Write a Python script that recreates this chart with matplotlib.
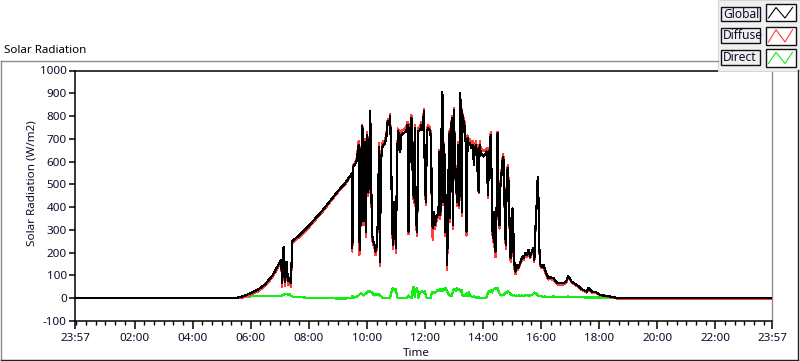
import matplotlib
matplotlib.use("Agg")
import matplotlib.pyplot as plt
from matplotlib.patches import Rectangle
from matplotlib.lines import Line2D
import numpy as np

plt.rcParams['font.family'] = ['Noto Sans', 'DejaVu Sans']

# ---------------- data ----------------
times = ["23:57", "05:25", "05:35", "05:45", "06:00", "06:15", "06:30", "06:45", "07:00", "07:03",
         "07:05", "07:08", "07:11", "07:14", "07:17", "07:20", "07:23", "07:26", "07:30", "07:45",
         "08:00", "08:30", "09:00", "09:15", "09:29", "09:30", "09:32", "09:38", "09:40", "09:43",
         "09:44", "09:46", "09:48", "09:50", "09:52", "09:53", "09:54", "09:56", "09:58", "10:00",
         "10:01", "10:03", "10:05", "10:07", "10:09", "10:11", "10:13", "10:16", "10:18", "10:20",
         "10:23", "10:25", "10:27", "10:29", "10:31", "10:33", "10:36", "10:40", "10:43", "10:46",
         "10:48", "10:50", "10:52", "10:54", "10:56", "10:58", "11:00", "11:02", "11:04", "11:07",
         "11:09", "11:11", "11:16", "11:21", "11:24", "11:26", "11:28", "11:31", "11:33", "11:35",
         "11:37", "11:39", "11:41", "11:44", "11:46", "11:50", "11:53", "11:55", "11:58", "12:00",
         "12:02", "12:04", "12:07", "12:11", "12:13", "12:14", "12:16", "12:19", "12:21", "12:23",
         "12:26", "12:28", "12:30", "12:31", "12:33", "12:35", "12:37", "12:38", "12:40", "12:42",
         "12:44", "12:46", "12:48", "12:51", "12:52", "12:54", "12:56", "12:58", "13:00", "13:02",
         "13:04", "13:06", "13:09", "13:11", "13:13", "13:14", "13:16", "13:17", "13:19", "13:21",
         "13:24", "13:26", "13:28", "13:31", "13:33", "13:36", "13:39", "13:41", "13:43", "13:46",
         "13:48", "13:51", "13:53", "13:55", "14:01", "14:04", "14:08", "14:10", "14:12", "14:14",
         "14:16", "14:17", "14:19", "14:20", "14:22", "14:24", "14:26", "14:28", "14:30", "14:32",
         "14:34", "14:36", "14:38", "14:41", "14:43", "14:45", "14:47", "14:49", "14:51", "14:53",
         "14:55", "14:57", "14:59", "15:01", "15:03", "15:05", "15:07", "15:09", "15:12", "15:15",
         "15:18", "15:21", "15:24", "15:27", "15:30", "15:34", "15:37", "15:41", "15:44", "15:46",
         "15:48", "15:51", "15:53", "15:54", "15:56", "15:58", "16:01", "16:05", "16:08", "16:12",
         "16:15", "16:18", "16:22", "16:25", "16:30", "16:35", "16:46", "16:52", "16:56", "17:00",
         "17:03", "17:14", "17:24", "17:34", "17:38", "17:45", "17:55", "18:02", "18:16", "18:30",
         "18:40", "18:55", "23:57"]

global_rad = [0, 0, 4, 9, 22, 38, 62, 100, 158, 168,
              65, 225, 70, 160, 75, 90, 65, 250, 258, 285,
              318, 390, 470, 505, 548, 219, 578, 597, 622, 673,
              271, 212, 541, 754, 732, 337, 556, 688, 293, 644,
              717, 468, 556, 820, 498, 278, 249, 234, 205, 227,
              351, 666, 161, 600, 644, 673, 673, 703, 776, 761,
              798, 644, 337, 234, 424, 337, 219, 541, 732, 717,
              644, 717, 725, 732, 761, 293, 615, 791, 783, 483,
              439, 747, 351, 293, 732, 739, 761, 739, 820, 498,
              424, 732, 747, 732, 673, 380, 307, 380, 322, 351,
              366, 380, 644, 366, 395, 905, 886, 424, 673, 293,
              454, 146, 498, 732, 351, 747, 791, 322, 827, 585,
              556, 424, 673, 410, 900, 805, 380, 820, 732, 776,
              688, 293, 703, 673, 681, 659, 673, 585, 659, 673,
              585, 468, 673, 640, 622, 629, 644, 454, 571, 673,
              717, 600, 380, 263, 380, 234, 205, 395, 725, 424,
              322, 498, 541, 622, 600, 351, 234, 527, 571, 498,
              307, 175, 205, 395, 263, 146, 117, 146, 132, 146,
              161, 183, 175, 197, 190, 212, 183, 205, 219, 168,
              293, 424, 534, 498, 234, 150, 139, 146, 124, 102,
              88, 95, 88, 90, 75, 66, 66, 75, 98, 85,
              73, 58, 40, 29, 44, 29, 25, 14, 10, 4,
              1, 0, 0]

diffuse_rad = [0, 0, 0, 3, 15, 30, 54, 92, 150, 160,
               50, 215, 55, 150, 60, 80, 50, 240, 250, 277,
               310, 384, 465, 500, 545, 205, 585, 603, 630, 690,
               190, 200, 550, 760, 740, 320, 565, 700, 270, 655,
               730, 450, 565, 760, 480, 260, 235, 220, 190, 215,
               340, 680, 140, 615, 660, 690, 690, 715, 785, 775,
               808, 655, 320, 215, 410, 315, 200, 555, 745, 735,
               660, 735, 740, 750, 775, 280, 630, 805, 800, 470,
               420, 760, 330, 275, 745, 755, 775, 755, 830, 485,
               410, 745, 760, 745, 685, 365, 256, 365, 305, 335,
               350, 365, 650, 350, 380, 890, 880, 410, 680, 275,
               440, 125, 480, 745, 335, 760, 800, 305, 835, 595,
               565, 405, 685, 395, 870, 815, 360, 830, 745, 790,
               700, 275, 715, 690, 700, 680, 690, 600, 675, 690,
               600, 460, 690, 660, 645, 650, 660, 440, 585, 685,
               730, 610, 360, 245, 365, 215, 180, 380, 730, 410,
               305, 510, 555, 635, 615, 335, 215, 540, 585, 510,
               290, 160, 190, 380, 245, 130, 105, 135, 125, 140,
               155, 175, 168, 190, 182, 205, 175, 198, 210, 160,
               285, 420, 530, 495, 225, 145, 132, 140, 118, 95,
               82, 90, 82, 84, 70, 60, 60, 70, 92, 80,
               68, 53, 36, 25, 40, 25, 22, 11, 8, 2,
               -3, -5, -5]

direct_rad = [0, 0, 4, 7, 8, 8, 8, 9, 10, 10,
              12, 15, 18, 20, 14, 18, 10, 8, 5, 4,
              2, 0, -1, -1, 0, 10, 2, 5, 8, 12,
              14, 20, 22, 18, 15, 12, 15, 18, 20, 25,
              28, 30, 28, 30, 28, 25, 15, 12, 18, 15,
              20, 15, 12, 10, 5, 0, 0, 2, 0, 0,
              5, 20, 35, 45, 40, 30, 42, 10, 0, 0,
              2, 0, 0, 0, 5, 12, 8, 5, 0, 45,
              50, 5, 40, 45, 0, 25, 30, 28, 25, 30,
              8, 0, 2, 0, 10, 25, 28, 22, 25, 28,
              35, 38, 30, 40, 38, 30, 32, 40, 35, 45,
              42, 30, 20, 12, 15, 10, 12, 35, 40, 38,
              32, 44, 35, 40, 30, 28, 35, 15, 12, 10,
              15, 22, 10, 25, 12, 8, 5, 10, 5, 2,
              0, 5, 0, 2, 0, 2, 5, 25, 30, 28,
              35, 30, 25, 35, 40, 42, 45, 40, 44, 30,
              20, 15, 12, 15, 14, 20, 28, 25, 30, 28,
              25, 18, 15, 12, 14, 12, 10, 12, 10, 12,
              10, 12, 10, 12, 15, 10, 12, 15, 20, 25,
              22, 18, 15, 12, 10, 8, 8, 6, 8, 6,
              5, 6, 5, 8, 6, 5, 5, 6, 8, 5,
              5, 4, 4, 3, 3, 3, 3, 3, 2, 2,
              1, 0, 0]

tick_labels = ["23:57", "02:00", "04:00", "06:00", "08:00", "10:00", "12:00",
               "14:00", "16:00", "18:00", "20:00", "22:00", "23:57"]
y_ticks = [-100, 0, 100, 200, 300, 400, 500, 600, 700, 800, 900, 1000]
series_names = ["Global", "Diffuse", "Direct"]
series_colors = ["#000000", "#ff3b3b", "#14ee14"]


def to_hours(lbls):
    out = []
    for i, s in enumerate(lbls):
        h, m = s.split(":")
        v = int(h) + int(m) / 60.0
        if i == 0 and v > 12:   # first stamp belongs to the previous day
            v -= 24
        out.append(v)
    return np.array(out)


t = to_hours(times)
tick_pos = to_hours(tick_labels)

W, H = 800, 361
fig = plt.figure(figsize=(W / 100, H / 100), dpi=100)
fig.patch.set_facecolor("white")


def fx(px):
    return px / W


def fy(py):
    return 1 - py / H


TXT = "#0c0c2a"

# outer frame of the graph control
fig.add_artist(Line2D([fx(1), fx(718)], [fy(61), fy(61)], color="#8c8c8c", lw=1.0))
fig.add_artist(Line2D([fx(1), fx(1)], [fy(61), fy(359.5)], color="#8c8c8c", lw=1.0))
fig.add_artist(Line2D([fx(1), fx(797.5)], [fy(359.5), fy(359.5)], color="#202020", lw=1.0))
fig.add_artist(Line2D([fx(797.5), fx(797.5)], [fy(70), fy(359.5)], color="#202020", lw=1.0))

ax = fig.add_axes([fx(75), fy(321), fx(772) - fx(75), fy(70.5) - fy(321)])
ax.set_facecolor("white")

ax.plot(t, direct_rad, color=series_colors[2], lw=0.85, zorder=2, antialiased=False)
ax.plot(t, diffuse_rad, color=series_colors[1], lw=0.85, zorder=3, antialiased=False)
ax.plot(t, global_rad, color=series_colors[0], lw=0.85, zorder=4, antialiased=False)

ax.set_xlim(tick_pos[0], tick_pos[-1])
ax.set_ylim(-100, 1000)
ax.set_xticks(tick_pos)
ax.set_xticklabels(tick_labels)
ax.set_xticks(np.arange(0, 24, 1 / 3), minor=True)
ax.set_yticks(y_ticks)
ax.set_yticklabels([str(v) for v in y_ticks])

for s in ["left", "top", "bottom"]:
    ax.spines[s].set_color("black")
    ax.spines[s].set_linewidth(1.1)
ax.spines["right"].set_color("#8c8c8c")
ax.spines["right"].set_linewidth(1.0)

ax.tick_params(axis="y", which="major", direction="out", length=4.5, width=1.1,
               labelsize=8.4, labelcolor=TXT, pad=1.5)
ax.tick_params(axis="x", which="major", direction="out", length=5.5, width=1.1,
               labelsize=8.4, labelcolor=TXT, pad=3)
ax.tick_params(axis="x", which="minor", direction="out", length=3, width=1.0)

fig.text(fx(416), fy(354), "Time", ha="center", va="center", fontsize=8.4, color=TXT)
fig.text(fx(32), fy(183), "Solar Radiation (W/m2)", ha="center", va="center",
         rotation=90, fontsize=8.4, color=TXT)
fig.text(fx(4), fy(50.5), "Solar Radiation", ha="left", va="center", fontsize=8.3, color="#000000")

# legend panel (plot legend of the graph)
fig.add_artist(Rectangle((fx(717.5), fy(70.5)), fx(800) - fx(717.5), fy(0) - fy(70.5),
                         facecolor="#f0f0f0", edgecolor="#d6d6d6", lw=0.8))
rows = [(7.3, 20.7, 4.5, 21.0), (28.3, 42.7, 26.7, 45.0), (50.0, 65.0, 49.3, 66.5)]
for name, col, (ty0, ty1, iy0, iy1) in zip(series_names, series_colors, rows):
    fig.add_artist(Rectangle((fx(721), fy(ty1)), fx(760) - fx(721), fy(ty0) - fy(ty1),
                             facecolor="#f0f0f0", edgecolor="#111111", lw=1.0))
    fig.text(fx(723), fy((ty0 + ty1) / 2 + 0.3), name, ha="left", va="center",
             fontsize=8.6, color=TXT)
    fig.add_artist(Rectangle((fx(766), fy(iy1)), fx(796) - fx(766), fy(iy0) - fy(iy1),
                             facecolor="white", edgecolor="#111111", lw=1.0))
    top, bot = iy0 + 3.0, iy1 - 3.0
    fig.add_artist(Line2D([fx(768.5), fx(776), fx(785), fx(792.5)],
                          [fy(bot), fy(top), fy(bot), fy(top)], color=col, lw=0.8))

fig.savefig("out.png", dpi=100, facecolor="white")
